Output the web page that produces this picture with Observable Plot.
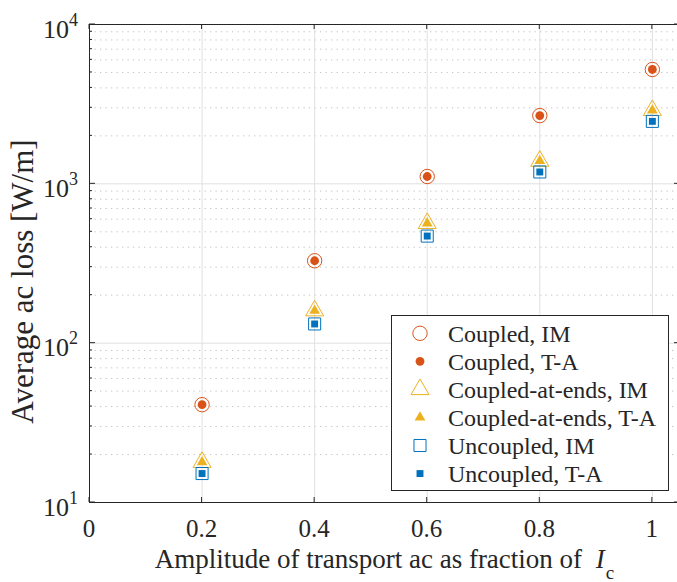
<!DOCTYPE html>
<html><head><meta charset="utf-8">
<script src="https://cdn.jsdelivr.net/npm/d3@7"></script>
<script src="https://cdn.jsdelivr.net/npm/@observablehq/plot@0.6"></script>
<style>
html,body{margin:0;padding:0;background:#fff;overflow:hidden;}
#chart{position:relative;width:677px;height:582px;}
</style></head><body><div id="chart"></div>
<script>
// ---- data ----
const amplitude = [0.2, 0.4, 0.6, 0.8, 1.0];
const coupledIM = [41.1, 329, 1112, 2681, 5220];
const coupledTA = [41.1, 329, 1112, 2681, 5220];
const endsIM = [17.9, 160, 565, 1391, 2890];
const endsTA = [17.9, 160, 565, 1391, 2890];
const uncoupledIM = [15.2, 132, 470, 1187, 2466];
const uncoupledTA = [15.2, 132, 470, 1187, 2466];

const seriesNames = ["Coupled, IM", "Coupled, T-A", "Coupled-at-ends, IM", "Coupled-at-ends, T-A", "Uncoupled, IM", "Uncoupled, T-A"];
const seriesValues = [coupledIM, coupledTA, endsIM, endsTA, uncoupledIM, uncoupledTA];
const seriesColors = ["#D95319", "#D95319", "#EDB120", "#EDB120", "#0072BD", "#0072BD"];
const seriesSymbols = ["circle", "circle", "triangle", "triangle", "square", "square"];
const seriesFilled = [false, true, false, true, false, true];
const seriesR = [7.2, 4.4, 6.7, 4.0, 6.8, 3.9];

const xTicks = [0, 0.2, 0.4, 0.6, 0.8, 1];
const xTickLabels = ["0", "0.2", "0.4", "0.6", "0.8", "1"];
const yTicks = [10, 100, 1000, 10000];
const yTickExponents = ["1", "2", "3", "4"];
const yMinor = [];
for (const d of [10, 100, 1000]) for (let k = 2; k <= 9; k++) yMinor.push(d * k);

const xLabel = "Amplitude of transport ac as fraction of";
const xLabelSymbol = "I";
const xLabelSub = "c";
const yLabel = "Average ac loss [W/m]";

const FONT = "'Liberation Serif', 'Times New Roman', serif";
const AX = "#262626";

// ---- custom marks ----
function ticksMark(index, {x, y}) {
  const g = d3.create("svg:g").attr("stroke", AX).attr("fill", "none").attr("stroke-width", 1);
  const yb = y(10), yt = y(10000), xl = x(0), xr = x(1.05);
  for (const t of xTicks) {
    g.append("line").attr("x1", x(t)).attr("x2", x(t)).attr("y1", yb).attr("y2", yb - 5);
    g.append("line").attr("x1", x(t)).attr("x2", x(t)).attr("y1", yt).attr("y2", yt + 5);
  }
  for (const t of yTicks) {
    g.append("line").attr("x1", xl).attr("x2", xl + 6).attr("y1", y(t)).attr("y2", y(t));
    g.append("line").attr("x1", xr).attr("x2", xr - 6).attr("y1", y(t)).attr("y2", y(t));
  }
  for (const t of yMinor) {
    g.append("line").attr("x1", xl).attr("x2", xl + 3).attr("y1", y(t)).attr("y2", y(t));
    g.append("line").attr("x1", xr).attr("x2", xr - 3).attr("y1", y(t)).attr("y2", y(t));
  }
  return g.node();
}

function labelsMark(index, {x, y}) {
  const g = d3.create("svg:g").attr("fill", AX).attr("font-family", FONT);
  xTicks.forEach((t, i) => {
    g.append("text").attr("x", x(t)).attr("y", y(10) + 34.5)
      .attr("text-anchor", "middle").attr("font-size", 25).text(xTickLabels[i]);
  });
  yTicks.forEach((t, i) => {
    const tx = g.append("text").attr("x", x(0) - 11).attr("y", y(t) + 13.5)
      .attr("text-anchor", "end").attr("font-size", 26);
    tx.append("tspan").text("10");
    tx.append("tspan").attr("dy", -12).attr("font-size", 18).text(yTickExponents[i]);
  });
  const xc = (x(0) + x(1.05)) / 2;
  const xl = g.append("text").attr("x", xc).attr("y", y(10) + 66)
    .attr("text-anchor", "middle").attr("font-size", 27);
  xl.append("tspan").text(xLabel + " ");
  xl.append("tspan").attr("dx", 7).attr("font-style", "italic").text(xLabelSymbol);
  xl.append("tspan").attr("dx", 1).attr("dy", 11).attr("font-size", 19).text(xLabelSub);
  const yc = 281.5;
  g.append("text").attr("transform", `translate(33,${yc}) rotate(-90)`)
    .attr("text-anchor", "middle").attr("font-size", 31).text(yLabel);
  return g.node();
}

function legendMark() {
  const g = d3.create("svg:g").attr("font-family", FONT);
  g.append("rect").attr("x", 391.5).attr("y", 315.5).attr("width", 277).attr("height", 175)
    .attr("fill", "white").attr("stroke", AX).attr("stroke-width", 1);
  const symMap = {circle: d3.symbolCircle, triangle: d3.symbolTriangle, square: d3.symbolSquare};
  seriesNames.forEach((name, i) => {
    const cy = 333.3 + i * 28.05;
    const r = seriesR[i];
    g.append("path").attr("transform", `translate(420,${cy})`)
      .attr("d", d3.symbol(symMap[seriesSymbols[i]], r * r * Math.PI)())
      .attr("fill", seriesFilled[i] ? seriesColors[i] : "none")
      .attr("stroke", seriesFilled[i] ? "none" : seriesColors[i])
      .attr("stroke-width", 1);
    g.append("text").attr("x", 448).attr("y", cy + 8.5).attr("font-size", 24)
      .attr("text-anchor", "start").attr("fill", AX).text(name);
  });
  return g.node();
}

// ---- plot ----
const dotMarks = seriesValues.map((vals, s) => Plot.dot(
  amplitude.map((a, i) => ({a, v: vals[i]})), {
    x: "a", y: "v", symbol: seriesSymbols[s], r: seriesR[s],
    fill: seriesFilled[s] ? seriesColors[s] : "none",
    stroke: seriesFilled[s] ? "none" : seriesColors[s],
    strokeWidth: 1
  }));

const plot = Plot.plot({
  width: 677, height: 582,
  marginLeft: 89, marginRight: -3, marginTop: 24, marginBottom: 80,
  style: {fontFamily: FONT, background: "white", overflow: "hidden"},
  x: {domain: [0, 1.05], axis: null},
  y: {type: "log", domain: [10, 10000], axis: null},
  marks: [
    Plot.ruleY(yMinor, {stroke: "#c4c4c4", strokeDasharray: "1.3,4.2", strokeWidth: 1}),
    Plot.ruleY([100, 1000], {stroke: "#e0e0e0", strokeWidth: 1}),
    Plot.ruleX(xTicks.filter(t => t > 0), {stroke: "#e0e0e0", strokeWidth: 1}),
    Plot.ruleX([0, 1.05], {stroke: AX, strokeWidth: 1}),
    Plot.ruleY([10, 10000], {stroke: AX, strokeWidth: 1}),
    ticksMark,
    ...dotMarks,
    labelsMark,
    legendMark
  ]
});
document.getElementById("chart").appendChild(plot);
</script></body></html>
